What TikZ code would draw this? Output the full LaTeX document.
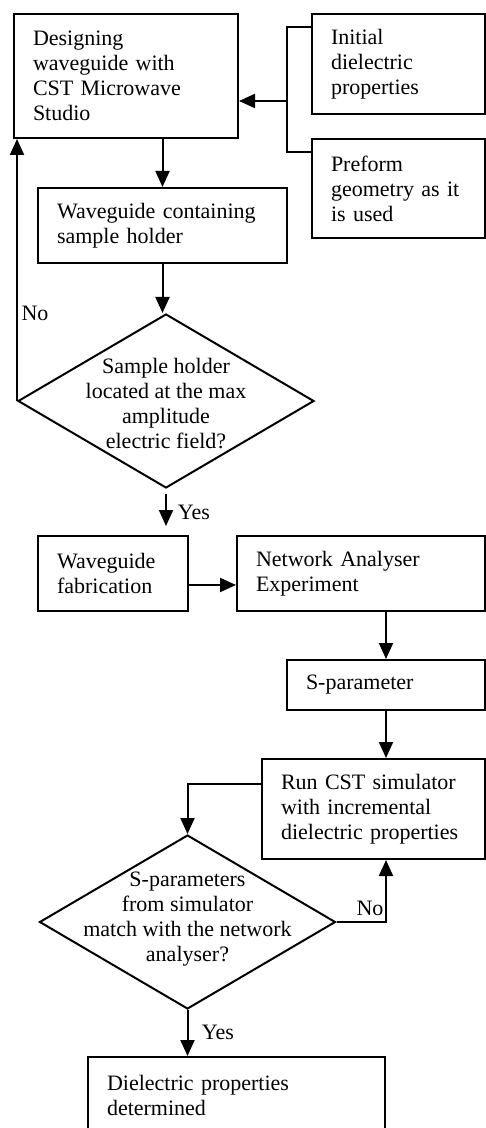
\documentclass[tikz,border=0pt]{standalone}
\usepackage{fontspec}
\setmainfont{Liberation Serif}
\usetikzlibrary{shapes.geometric,arrows.meta}

\begin{document}
\begin{tikzpicture}[x=.5pt,y=-.5pt,>={Triangle[length=8pt,width=7pt]},line width=1pt,
  font=\fontsize{11}{12.5}\selectfont,
  box/.style={draw,rectangle,align=left,inner xsep=9.5pt,inner ysep=0pt},
  decision/.style={draw,diamond,inner sep=0pt,minimum width=148pt,minimum height=87pt},
  dtext/.style={align=center,inner sep=0pt}]
  \path[fill=white,use as bounding box] (0,0) rectangle (486,1128);
  % boxes
  \node[box,text width=93pt,minimum height=62pt] (design) at (126,76) {Designing\\waveguide with\\CST Microwave\\Studio};
  \node[box,text width=67.5pt,minimum height=50pt] (initial) at (398.5,64) {Initial\\dielectric\\properties};
  \node[box,text width=67.5pt,minimum height=49.5pt] (preform) at (398.5,188.5) {Preform\\geometry as it\\is used};
  \node[box,text width=105.5pt,minimum height=37.5pt] (holder) at (162.5,225.5) {Waveguide containing\\sample holder};
  \node[decision] (dec1) at (166,401) {};
  \node[dtext] (dec1txt) at (166,404) {Sample holder\\located at the max\\amplitude\\electric field?};
  \node[box,text width=56pt,minimum height=37.5pt] (fab) at (113,573.5) {Waveguide\\fabrication};
  \node[box,text width=105pt,minimum height=37.5pt] (nae) at (361,573.5) {Network Analyser\\Experiment};
  \node[box,text width=80pt,minimum height=25pt] (spar) at (386,685) {S-parameter};
  \node[box,text width=92.5pt,minimum height=50pt] (runcst) at (373.5,809) {Run CST simulator\\with incremental\\dielectric properties};
  \node[decision] (dec2) at (187.5,922) {};
  \node[dtext] (dec2txt) at (187.5,919) {S-parameters\\from simulator\\match with the network\\analyser?};
  \node[box,text width=129.5pt,minimum height=38pt] (result) at (236.5,1095) {Dielectric properties\\determined};
  % labels
  \node (no1) at (35,313) {No};
  \node (yes1) at (194,512) {Yes};
  \node (no2) at (370,908) {No};
  \node (yes2) at (218,1032) {Yes};
  % inputs
  \coordinate (jt) at (287,27);
  \coordinate (jm) at (287,101);
  \coordinate (jb) at (287,152);
  \draw (jt -| initial.west) -- (jt) -- (jb) -- (jb -| preform.west);
  \draw[->] (jm) -- (jm -| design.east);
  % flow
  \draw[->] (holder.north |- design.south) -- (holder.north);
  \draw[->] (holder.south) -- (holder.south |- dec1.north);
  \draw[->] (dec1.west) -- (dec1.west |- design.south);
  \draw[->,shorten <=2.5pt,shorten >=4.5pt] (dec1.south) -- (dec1.south |- fab.north);
  \draw[->] ([yshift=-5.75pt]fab.east) -- ([yshift=-5.75pt]fab.east -| nae.west);
  \draw[->] (spar.north |- nae.south) -- (spar.north);
  \draw[->] (spar.south) -- (spar.south |- runcst.north);
  \draw[->] ([yshift=12.5pt]runcst.west) -| (dec2.north);
  \draw[->] (dec2.east) -| (spar.south |- runcst.south);
  \draw[->] (dec2.south) -- (dec2.south |- result.north);
\end{tikzpicture}
\end{document}
